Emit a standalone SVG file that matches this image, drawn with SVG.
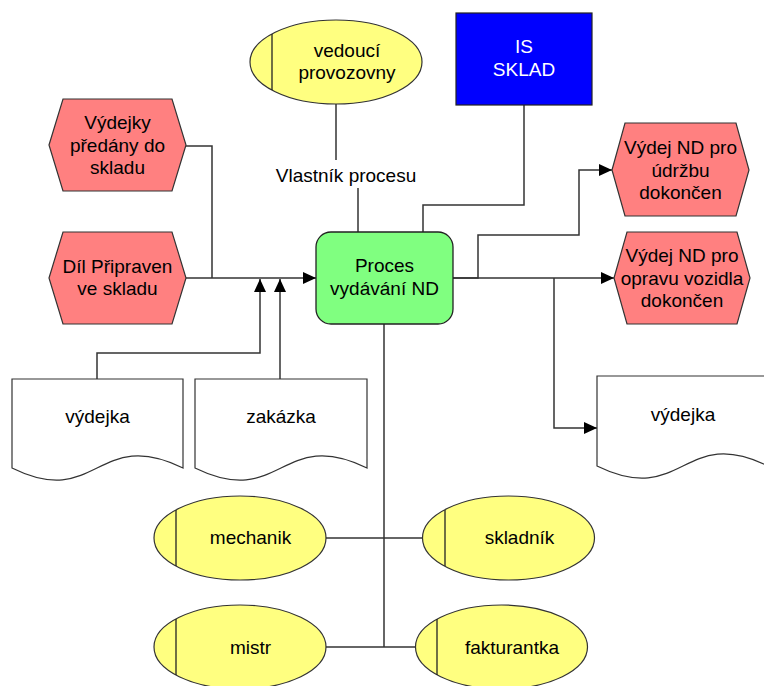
<svg xmlns="http://www.w3.org/2000/svg" width="764" height="686" viewBox="0 0 764 686">
  <style>
    text { font-family: "Liberation Sans", Arial, sans-serif; font-size: 19px; fill: #000; text-anchor: middle; }
    .event { fill: #FF8080; stroke: #333; stroke-width: 1.2; }
    .role { fill: #FFFF80; stroke: #333; stroke-width: 1.2; }
    .role-bar { stroke: #222; stroke-width: 1.3; fill: none; }
    .doc { fill: #fff; stroke: #333; stroke-width: 1.2; }
    .proc { fill: #80FF80; stroke: #222; stroke-width: 1.3; }
    .sys { fill: #0000FF; stroke: #222; stroke-width: 1.2; }
    .sys-text { fill: #fff; }
    .conn { fill: none; stroke: #333; stroke-width: 1.5; }
  </style>
  <defs>
    <marker id="arrow" markerUnits="userSpaceOnUse" markerWidth="14" markerHeight="12" refX="13" refY="6" orient="auto">
      <path d="M0,0 L13,6 L0,12 Z" fill="#000"/>
    </marker>
  </defs>

  <rect width="764" height="686" fill="#fff"/>

  <!-- connectors -->
  <g id="connectors">
    <path class="conn" d="M336,104 V160"/>
    <path class="conn" d="M358,188 V232"/>
    <path class="conn" d="M524,105 V205 H423 V232"/>
    <path class="conn" d="M186,146 H212 V278"/>
    <path class="conn" d="M186,278 H316" marker-end="url(#arrow)"/>
    <path class="conn" d="M97,379 V353 H260 V279" marker-end="url(#arrow)"/>
    <path class="conn" d="M280,379 V279" marker-end="url(#arrow)"/>
    <path class="conn" d="M453,278 H478 V235 H579 V170 H612" marker-end="url(#arrow)"/>
    <path class="conn" d="M453,278 H614" marker-end="url(#arrow)"/>
    <path class="conn" d="M554,278 V428 H597" marker-end="url(#arrow)"/>
    <path class="conn" d="M384,324 V647"/>
    <path class="conn" d="M325,538 H423"/>
    <path class="conn" d="M325,647 H416"/>
    <text x="346" y="182">Vlastník procesu</text>
  </g>

  <!-- process owner -->
  <g id="vedouci">
    <ellipse class="role" cx="336" cy="62" rx="86" ry="42"/>
    <path class="role-bar" d="M272,34 V90"/>
    <text x="347" y="57">vedoucí</text>
    <text x="347" y="79">provozovny</text>
  </g>

  <!-- information system -->
  <g id="is-sklad">
    <rect class="sys" x="456" y="13" width="136" height="92"/>
    <text class="sys-text" x="524" y="53">IS</text>
    <text class="sys-text" x="524" y="76">SKLAD</text>
  </g>

  <!-- central process -->
  <g id="proces">
    <rect class="proc" x="316" y="232" width="137" height="92" rx="15" ry="15"/>
    <text x="384.5" y="272">Proces</text>
    <text x="384.5" y="295">vydávání ND</text>
  </g>

  <!-- input events -->
  <g id="vydejky-predany">
    <path class="event" d="M49,145 L63,99 H172 L186,145 L172,191 H63 Z"/>
    <text x="117.5" y="129">Výdejky</text>
    <text x="117.5" y="152">předány do</text>
    <text x="117.5" y="174">skladu</text>
  </g>
  <g id="dil-pripraven">
    <path class="event" d="M49,278 L63,232 H172 L186,278 L172,324 H63 Z"/>
    <text x="117.5" y="273">Díl Připraven</text>
    <text x="117.5" y="295">ve skladu</text>
  </g>

  <!-- output events -->
  <g id="vydej-udrzba">
    <path class="event" d="M612,170 L625,123 H736 L749,170 L736,216 H625 Z"/>
    <text x="680.5" y="154">Výdej ND pro</text>
    <text x="680.5" y="177">údržbu</text>
    <text x="680.5" y="199">dokončen</text>
  </g>
  <g id="vydej-oprava">
    <path class="event" d="M614,278 L627,232 H737 L750,278 L737,324 H627 Z"/>
    <text x="682" y="262">Výdej ND pro</text>
    <text x="682" y="285">opravu vozidla</text>
    <text x="682" y="307">dokončen</text>
  </g>

  <!-- documents -->
  <g id="vydejka-in">
    <path class="doc" d="M12,379 H183 V468 C97,426 97,510 12,468 Z"/>
    <text x="97.5" y="423">výdejka</text>
  </g>
  <g id="zakazka">
    <path class="doc" d="M195,379 H367 V468 C281,426 281,510 195,468 Z"/>
    <text x="281" y="423">zakázka</text>
  </g>
  <g id="vydejka-out">
    <path class="doc" d="M597,376 H768 V466 C683,424 683,508 597,466 Z"/>
    <text x="683" y="421">výdejka</text>
  </g>

  <!-- participants -->
  <g id="mechanik">
    <ellipse class="role" cx="240" cy="538" rx="86" ry="42"/>
    <path class="role-bar" d="M176,510 V566"/>
    <text x="250.5" y="544">mechanik</text>
  </g>
  <g id="skladnik">
    <ellipse class="role" cx="508.5" cy="538" rx="86" ry="42"/>
    <path class="role-bar" d="M445,510 V566"/>
    <text x="519.5" y="544">skladník</text>
  </g>
  <g id="mistr">
    <ellipse class="role" cx="240" cy="647" rx="86" ry="42"/>
    <path class="role-bar" d="M176,619 V675"/>
    <text x="250.5" y="654">mistr</text>
  </g>
  <g id="fakturantka">
    <ellipse class="role" cx="501.5" cy="647" rx="86" ry="42"/>
    <path class="role-bar" d="M437,619 V675"/>
    <text x="512" y="654">fakturantka</text>
  </g>
</svg>
